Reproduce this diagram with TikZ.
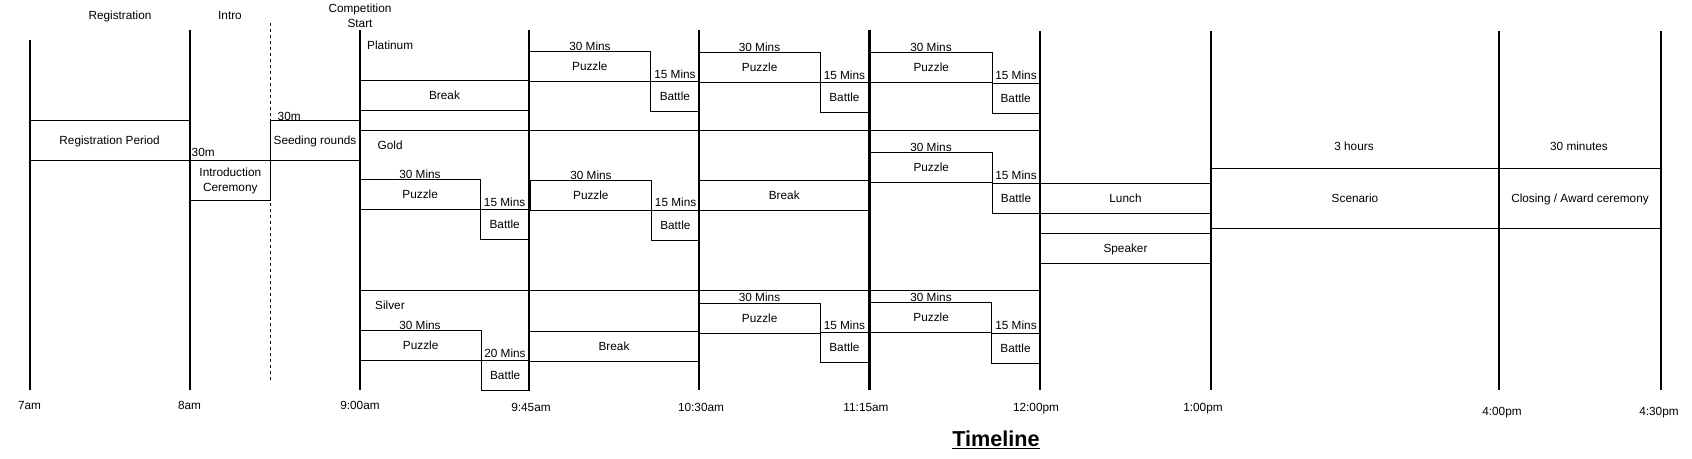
\documentclass[tikz,border=0pt]{standalone}
\usepackage{fontspec}
\setmainfont{Liberation Sans}
\newcommand\evfont{\fontsize{11.8pt}{14pt}\selectfont}
\newcommand\evfontml{\fontsize{11.8pt}{15pt}\selectfont}
\tikzset{
  tline/.style={line width=2.2pt, line cap=butt},
  dline/.style={line width=1pt, dash pattern=on 3pt off 3pt},
  sline/.style={line width=1pt},
  evbox/.style={draw, line width=1pt, rectangle, inner sep=0pt, outer sep=0pt, anchor=north west, font=\evfont, text height=8.5pt, text depth=0pt},
  lbl/.style={inner sep=0pt, font=\evfont, text height=8.5pt, text depth=0pt},
  mlbl/.style={inner sep=0pt, font=\evfontml, align=center},
  ttl/.style={inner sep=0pt, font=\fontsize{21.6pt}{26pt}\selectfont\bfseries}
}
\newcommand\evb[6]{%
  \pgfmathsetmacro\bw{(#4)-(#2)}%
  \pgfmathsetmacro\bh{(#5)-(#3)}%
  \node[evbox, minimum width=\bw pt, minimum height=\bh pt] (#1) at (#2,#3) {#6};}
\begin{document}
\begin{tikzpicture}[x=1pt,y=-1pt]
\useasboundingbox (0,0) rectangle (1692,458);

% vertical time lines
\draw[tline] (29.6,40) -- (29.6,390);
\draw[tline] (189.6,30) -- (189.6,390);
\draw[dline] (270,23) -- (270,380);
\draw[tline] (360,30) -- (360,390);
\draw[tline] (529,30) -- (529,390);
\draw[tline] (699,30) -- (699,390);
\draw[tline] (869.5,30) -- (869.5,390);
\draw[tline] (1040,31) -- (1040,390);
\draw[tline] (1211,31) -- (1211,390);
\draw[tline] (1499,31) -- (1499,390);
\draw[tline] (1661,31) -- (1661,390);

% section separators
\draw[sline] (360,130.5) -- (1040,130.5);
\draw[sline] (360,290.3) -- (1040,290.3);

% top labels
\node[lbl] (hreg) at (120,15) {Registration};
\node[lbl] (hint) at (230,15) {Intro};
\node[mlbl] (hcomp) at (360,16) {Competition\\Start};

% time labels
\node[lbl] (t1) at (29.6,405) {7am};
\node[lbl] (t2) at (189.6,405) {8am};
\node[lbl] (t3) at (360,405) {9:00am};
\node[lbl] (t4) at (531,407.3) {9:45am};
\node[lbl] (t5) at (701,407.3) {10:30am};
\node[lbl] (t6) at (866,407.3) {11:15am};
\node[lbl] (t7) at (1036,407.3) {12:00pm};
\node[lbl] (t8) at (1203,407.3) {1:00pm};
\node[lbl] (t9) at (1502,411.7) {4:00pm};
\node[lbl] (t10) at (1659,411.7) {4:30pm};

% registration / intro / seeding
\evb{reg}{29.6}{120.7}{189.6}{160}{Registration Period}
\node[mlbl, draw, line width=1pt, minimum width=80.4pt, minimum height=40pt, anchor=north west] (intro) at (189.6,160) {Introduction\\Ceremony};
\node[lbl, anchor=west] (m30a) at (191.5,152) {30m};
\node[lbl, anchor=west] (m30b) at (277.5,116) {30m};
\evb{seed}{270}{120.7}{360}{160}{Seeding rounds}

% Platinum
\node[lbl, anchor=west] (plat) at (367,45) {Platinum};
\evb{pbreak}{360}{80.7}{529}{110.7}{Break}
\node[lbl] (pm1) at (590,46) {30 Mins};
\evb{pp1}{529}{51.7}{650.7}{81.5}{Puzzle}
\node[lbl] (pb1m) at (675,74) {15 Mins};
\evb{pb1}{650.7}{81.5}{699}{111.3}{Battle}
\node[lbl] (pm2) at (759.5,47) {30 Mins};
\evb{pp2}{699}{52.3}{820.3}{82.3}{Puzzle}
\node[lbl] (pb2m) at (844.4,75) {15 Mins};
\evb{pb2}{820.3}{82.3}{868.5}{112.3}{Battle}
\node[lbl] (pm3) at (931,47) {30 Mins};
\evb{pp3}{870.5}{52.3}{992}{82.3}{Puzzle}
\node[lbl] (pb3m) at (1016,75) {15 Mins};
\evb{pb3}{992}{83.7}{1039.3}{113.3}{Battle}

% Gold
\node[lbl, anchor=west] (gold) at (377.5,145) {Gold};
\node[lbl] (gm1) at (420,174) {30 Mins};
\evb{gp1}{360}{179.3}{480.3}{209.3}{Puzzle}
\node[lbl] (gb1m) at (504.6,202.3) {15 Mins};
\evb{gb1}{480.3}{209.3}{529}{239.3}{Battle}
\node[lbl] (gm2) at (591,175) {30 Mins};
\evb{gp2}{530}{180.5}{651.7}{210.3}{Puzzle}
\node[lbl] (gb2m) at (675.6,202.7) {15 Mins};
\evb{gb2}{651.7}{210.3}{699}{240.3}{Battle}
\evb{gbreak}{699}{180.7}{869.5}{210.3}{Break}
\node[lbl] (gm3) at (931,147) {30 Mins};
\evb{gp3}{870.5}{152.3}{992}{182.3}{Puzzle}
\node[lbl] (gb3m) at (1016,175) {15 Mins};
\evb{gb3}{992}{183.5}{1040}{213.3}{Battle}

% Lunch / Speaker
\evb{lunch}{1040}{183.3}{1211}{213.3}{Lunch}
\evb{speak}{1040}{233.3}{1211}{263.3}{Speaker}

% Scenario / Closing
\node[lbl] (h3) at (1354,146.7) {3 hours};
\evb{scen}{1211}{168.3}{1499}{228.3}{Scenario}
\node[lbl] (h30) at (1579,146.7) {30 minutes};
\evb{close}{1499}{168.3}{1661}{228.3}{Closing / Award ceremony}

% Silver
\node[lbl, anchor=west] (silv) at (375,305) {Silver};
\node[lbl] (sm1) at (420,325) {30 Mins};
\evb{sp1}{360}{330.3}{481.4}{360.3}{Puzzle}
\node[lbl] (sb1m) at (505,353.3) {20 Mins};
\evb{sb1}{481.4}{360.3}{529}{390}{Battle}
\evb{sbreak}{529}{331.3}{699}{361.3}{Break}
\node[lbl] (sm2) at (759.5,297) {30 Mins};
\evb{sp2}{699}{303.3}{820.3}{333.3}{Puzzle}
\node[lbl] (sb2m) at (844.4,325) {15 Mins};
\evb{sb2}{820.3}{332.3}{868.5}{362.3}{Battle}
\node[lbl] (sm3) at (931,297) {30 Mins};
\evb{sp3}{870.5}{302.3}{991.8}{332.3}{Puzzle}
\node[lbl] (sb3m) at (1016,325) {15 Mins};
\evb{sb3}{991.8}{333.7}{1039.3}{363.3}{Battle}

% title
\node[ttl] (title) at (996,440) {\underline{Timeline}};
\end{tikzpicture}
\end{document}
